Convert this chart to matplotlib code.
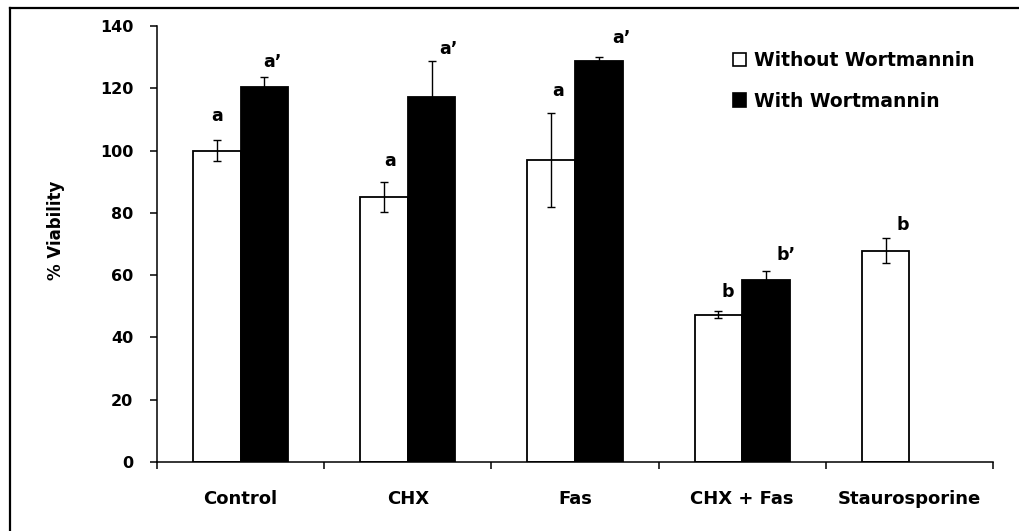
import numpy as np
import matplotlib
matplotlib.use("Agg")
import matplotlib.pyplot as plt
from matplotlib.patches import Patch
from matplotlib.lines import Line2D

# values
categories = ["Control", "CHX", "Fas", "CHX + Fas", "Staurosporine"]
without_wort = [100.0, 85.0, 97.0, 47.3, 67.8]
without_err = [3.5, 4.8, 15.0, 1.2, 4.0]
with_wort = [120.5, 117.1, 128.8, 58.4, np.nan]
with_err = [3.2, 11.7, 1.2, 3.0, np.nan]
without_letters = ["a", "a", "a", "b", "b"]
with_letters = ["a\u2019", "a\u2019", "a\u2019", "b\u2019", ""]
yticks = [0, 20, 40, 60, 80, 100, 120, 140]

# letter placement relative to the error bar top, in pixels (dx, dy)
without_offsets = [(0, 15), (6, 12), (7, 13), (9, 10), (17, 4)]
with_offsets = [(8, 6), (17, 3), (23, 10), (20, 7), (0, 0)]

plt.rcParams['font.family'] = ['DejaVu Sans']
plt.rcParams['font.weight'] = 'bold'

fig = plt.figure(figsize=(10.2, 5.31), dpi=100)
ax = fig.add_axes([157 / 1020, 1 - 462 / 531, (993 - 157) / 1020, (462 - 26) / 531])

x = np.arange(len(categories))
w = 0.285
ax.bar(x - w / 2, without_wort, w, color='white', edgecolor='black', linewidth=1.3,
       yerr=without_err, error_kw=dict(ecolor='black', elinewidth=1, capsize=3, capthick=1),
       zorder=2)
mask = ~np.isnan(with_wort)
ax.bar(x[mask] + w / 2, np.array(with_wort)[mask], w, color='black', edgecolor='black', linewidth=1.3,
       yerr=np.array(with_err)[mask], error_kw=dict(ecolor='black', elinewidth=1, capsize=3, capthick=1),
       zorder=2)

px = 72 / fig.dpi
for i in range(len(categories)):
    top = without_wort[i] + without_err[i]
    dx, dy = without_offsets[i]
    ax.annotate(without_letters[i], (x[i] - w / 2, top), xytext=(dx * px, dy * px),
                textcoords='offset points', ha='center', va='bottom', fontsize=12.5, fontweight='bold')
    if with_letters[i]:
        top = with_wort[i] + with_err[i]
        dx, dy = with_offsets[i]
        ax.annotate(with_letters[i], (x[i] + w / 2, top), xytext=(dx * px, dy * px),
                    textcoords='offset points', ha='center', va='bottom', fontsize=12.5, fontweight='bold')

ax.set_xlim(-0.5, len(categories) - 0.5)
ax.set_ylim(0, 140)
ax.set_yticks(yticks)
ax.tick_params(axis='y', direction='out', length=5, width=1.1, pad=12, labelsize=11.5)
ax.set_xticks(np.arange(-0.5, len(categories), 1.0))
ax.set_xticklabels([])
ax.set_xticks(x, minor=True)
ax.set_xticklabels(categories, minor=True, fontsize=13, fontweight='bold')
ax.tick_params(axis='x', which='major', direction='out', length=5, width=1.1)
ax.tick_params(axis='x', which='minor', length=0, pad=20)
for lab in ax.get_yticklabels():
    lab.set_fontweight('bold')

for s in ['top', 'right']:
    ax.spines[s].set_visible(False)
for s in ['left', 'bottom']:
    ax.spines[s].set_linewidth(1.1)

ax.set_ylabel("% Viability", fontsize=12, fontweight='bold')
ax.yaxis.set_label_coords(-0.11, 0.532)

handles = [Patch(facecolor='white', edgecolor='black', linewidth=1.2),
           Patch(facecolor='black', edgecolor='black', linewidth=1.2)]
ax.legend(handles, ["Without Wortmannin", "With Wortmannin"], loc='upper left',
          bbox_to_anchor=(733 / 1020, 1 - 51 / 531), bbox_transform=fig.transFigure,
          frameon=False, handlelength=0.7, handleheight=0.7,
          handletextpad=0.4, labelspacing=1.15, borderpad=0, borderaxespad=0,
          prop=dict(weight='bold', size=13.5))

# frame around the figure (top and left edges)
fig.add_artist(Line2D([10 / 1020, 1], [1 - 8 / 531, 1 - 8 / 531], transform=fig.transFigure,
                      color='black', linewidth=1.6))
fig.add_artist(Line2D([10 / 1020, 10 / 1020], [0, 1 - 8 / 531], transform=fig.transFigure,
                      color='black', linewidth=1.6))

fig.savefig("out.png", dpi=100)
